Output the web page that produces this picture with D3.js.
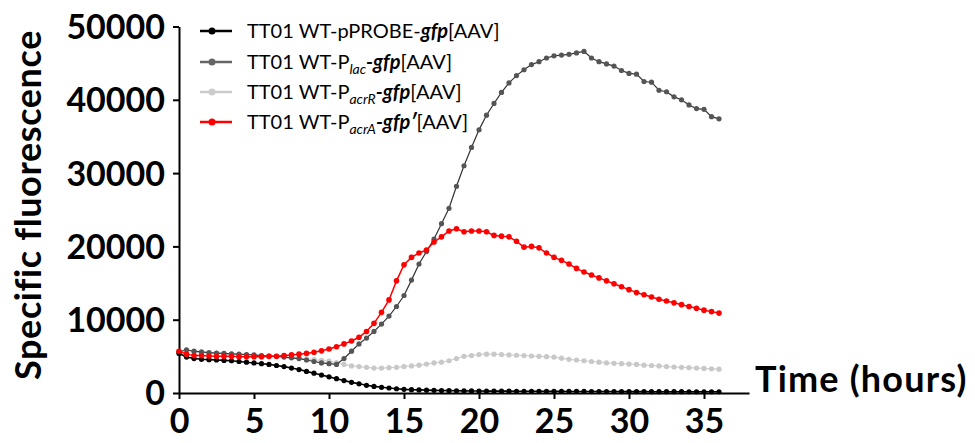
<!DOCTYPE html>
<html>
<head>
<meta charset="utf-8">
<script src="https://cdn.jsdelivr.net/npm/d3@7"></script>
<style>
  html, body { margin: 0; padding: 0; background: #fff; }
  svg { display: block; }
  text { font-family: Lato, "Liberation Sans", sans-serif; }
</style>
</head>
<body>
<svg id="canvas" width="975" height="443"></svg>
<script>
    "use strict";

    // sampling times, every half hour
    var hours = d3.range(0, 36.5, 0.5);
    var xTicks = [0, 5, 10, 15, 20, 25, 30, 35];
    var yTicks = [0, 10000, 20000, 30000, 40000, 50000];

    var pprobe = [
        5400, 4900, 4700, 4600, 4550, 4500, 4450, 4400, 4300, 4200,
        4100, 4000, 3900, 3750, 3600, 3400, 3200, 2950, 2700, 2450,
        2200, 1950, 1700, 1450, 1250, 1050, 900, 780, 680, 580,
        500, 450, 420, 390, 360, 340, 320, 300, 290, 280,
        270, 260, 260, 250, 250, 240, 240, 230, 230, 220,
        220, 220, 210, 210, 210, 200, 200, 200, 200, 190,
        190, 190, 190, 180, 180, 180, 180, 180, 170, 170,
        170, 170, 170
    ];
    var plac = [
        5600, 5900, 5700, 5600, 5500, 5450, 5400, 5350, 5300, 5250,
        5200, 5100, 5050, 5000, 4900, 4800, 4700, 4500, 4300, 4100,
        4000, 3900, 4700, 5700, 6700, 7500, 8400, 9400, 10500, 11800,
        13300, 15400, 17600, 19300, 21000, 23100, 25200, 28200, 31000, 33500,
        35900, 37900, 39500, 41000, 42300, 43300, 44100, 44800, 45200, 45700,
        46000, 46100, 46200, 46400, 46600, 45700, 45200, 44900, 44600, 44000,
        43600, 43500, 42500, 42400, 41300, 41100, 40400, 40000, 39300, 38800,
        38700, 37700, 37400
    ];
    var pacrR = [
        5600, 5800, 5600, 5500, 5450, 5400, 5350, 5300, 5250, 5200,
        5150, 5100, 5050, 5000, 4950, 4850, 4750, 4650, 4550, 4450,
        4350, 4150, 3900, 3700, 3600, 3500, 3400, 3400, 3450, 3500,
        3600, 3700, 3800, 3950, 4100, 4200, 4400, 4700, 5000, 5100,
        5250, 5300, 5300, 5250, 5200, 5150, 5100, 5050, 5000, 4950,
        4900, 4750, 4600, 4500, 4400, 4300, 4200, 4100, 4050, 4000,
        3950, 3900, 3800, 3750, 3700, 3600, 3550, 3500, 3450, 3400,
        3350, 3300, 3250
    ];
    var pacrA = [
        5700, 5300, 5100, 5100, 5050, 5000, 5000, 5000, 4950, 4950,
        4950, 4950, 5000, 5000, 5100, 5200, 5300, 5400, 5550, 5750,
        6000, 6300, 6700, 7100, 7600, 8400, 9500, 11000, 12700, 15300,
        17500, 18500, 19100, 19500, 20600, 21300, 22100, 22400, 22000, 22100,
        22100, 22000, 21500, 21400, 21300, 20700, 19900, 20000, 19800, 19100,
        18500, 18100, 17600, 17000, 16500, 16100, 15700, 15300, 14900, 14500,
        14100, 13700, 13400, 13100, 12800, 12550, 12300, 12050, 11800, 11550,
        11300, 11100, 10900
    ];

    // legend rows: [prefix, subscript, gene, suffix]
    var legendLabels = [
        ["TT01 WT-pPROBE-", "", "gfp", "[AAV]"],
        ["TT01 WT-P", "lac", "-gfp", "[AAV]"],
        ["TT01 WT-P", "acrR", "-gfp", "[AAV]"],
        ["TT01 WT-P", "acrA", "-gfp\u2032", "[AAV]"]
    ];

    var series = [
        { values: pacrR, line: "#cfcfcf", marker: "#c8c8c8", width: 1.2, r: 2.6 },
        { values: plac, line: "#333333", marker: "#555555", width: 1.2, r: 2.6 },
        { values: pprobe, line: "#000000", marker: "#000000", width: 1.6, r: 2.6 },
        { values: pacrA, line: "#ff0000", marker: "#ff0000", width: 1.5, r: 2.8 }
    ];
    var legendStyles = [
        { line: "#000000", marker: "#000000" },
        { line: "#666666", marker: "#666666" },
        { line: "#cccccc", marker: "#cccccc" },
        { line: "#ff0000", marker: "#ff0000" }
    ];

    var svg = d3.select(document.getElementById("canvas"));

    var x = d3.scaleLinear().domain([0, 38]).range([179, 749]);
    var y = d3.scaleLinear().domain([0, 50000]).range([393, 26.5]);

    // Axes
    var xAxis = svg.append("g")
        .attr("transform", "translate(0," + y(0) + ")")
        .call(d3.axisBottom(x).tickValues(xTicks).tickSize(6).tickPadding(10).tickSizeOuter(0));
    var yAxis = svg.append("g")
        .attr("transform", "translate(" + x(0) + ",0)")
        .call(d3.axisLeft(y).tickValues(yTicks).tickSize(6).tickPadding(8).tickSizeOuter(0)
            .tickFormat(d3.format("d")));

    [xAxis, yAxis].forEach(function(axis) {
        axis.select(".domain").attr("stroke", "#000").attr("stroke-width", 2);
        axis.selectAll(".tick line").attr("stroke", "#000").attr("stroke-width", 2);
        axis.selectAll(".tick text")
            .attr("fill", "#000")
            .attr("font-family", "Lato, sans-serif")
            .attr("font-weight", "bold")
            .attr("font-size", "34px");
    });
    yAxis.selectAll(".tick text").attr("dy", "0.35em");

    // Axis titles
    svg.append("text")
        .attr("transform", "translate(41," + 205 + ") rotate(-90)")
        .attr("text-anchor", "middle")
        .attr("font-weight", "bold")
        .attr("font-size", "36px")
        .attr("letter-spacing", "0.6px")
        .text("Specific fluorescence");
    svg.append("text")
        .attr("x", 755)
        .attr("y", 392)
        .attr("font-weight", "bold")
        .attr("font-size", "36px")
        .attr("letter-spacing", "1.2px")
        .text("Time (hours)");

    // Lines and markers
    var line = d3.line()
        .x(function(d, i) { return x(hours[i]); })
        .y(function(d) { return y(d); });

    series.forEach(function(s) {
        var g = svg.append("g");
        g.append("path")
            .attr("d", line(s.values))
            .attr("fill", "none")
            .attr("stroke", s.line)
            .attr("stroke-width", s.width);
        g.selectAll("circle")
            .data(s.values)
            .enter().append("circle")
            .attr("cx", function(d, i) { return x(hours[i]); })
            .attr("cy", function(d) { return y(d); })
            .attr("r", s.r)
            .attr("fill", s.marker);
    });

    // Legend
    var legendY = [31, 62, 92, 122];
    var legend = svg.selectAll(".legend")
        .data(legendLabels)
        .enter().append("g")
        .attr("class", "legend")
        .attr("transform", function(d, i) { return "translate(200," + legendY[i] + ")"; });
    legend.append("line")
        .attr("x1", 0).attr("x2", 32).attr("y1", 0).attr("y2", 0)
        .attr("stroke", function(d, i) { return legendStyles[i].line; })
        .attr("stroke-width", 2.5);
    legend.append("circle")
        .attr("cx", 12).attr("cy", 0).attr("r", 3.5)
        .attr("fill", function(d, i) { return legendStyles[i].marker; });

    var label = legend.append("text")
        .attr("x", 47)
        .attr("y", 7)
        .attr("font-size", "20px")
        .attr("fill", "#000");
    label.append("tspan").text(function(d) { return d[0]; });
    label.append("tspan")
        .attr("font-style", "italic")
        .attr("font-size", "14px")
        .attr("dy", function(d) { return d[1] ? 5 : 0; })
        .text(function(d) { return d[1]; });
    label.append("tspan")
        .attr("font-style", "italic")
        .attr("font-weight", "bold")
        .attr("dy", function(d) { return d[1] ? -5 : 0; })
        .text(function(d) { return d[2]; });
    label.append("tspan").text(function(d) { return d[3]; });
</script>
</body>
</html>
